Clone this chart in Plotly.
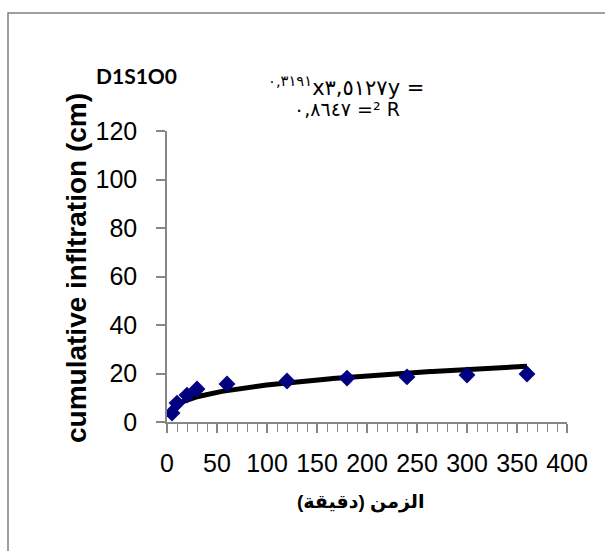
import numpy as np
import plotly.graph_objects as go

# Data
time_min = [5, 10, 20, 30, 60, 120, 180, 240, 300, 360]
cum_infiltration = [3.7, 7.8, 11.1, 13.6, 15.7, 16.9, 18.1, 18.6, 19.4, 19.8]

# Power trendline shown on chart: y = 3.5127 x^0.3191
trend_a = 3.5127
trend_b = 0.3191

x_ticks = [0, 50, 100, 150, 200, 250, 300, 350, 400]
y_ticks = [0, 20, 40, 60, 80, 100, 120]

W, H = 605, 551
L, R, T, B = 167, 567, 131, 422

tx = np.linspace(min(time_min), max(time_min), 200)
ty = trend_a * tx ** trend_b

fig = go.Figure()
fig.add_trace(go.Scatter(x=tx, y=ty, mode="lines",
                         line=dict(color="black", width=5), hoverinfo="skip"))
fig.add_trace(go.Scatter(x=time_min, y=cum_infiltration, mode="markers",
                         marker=dict(symbol="diamond", size=13, color="#000080",
                                     line=dict(width=0))))

def px_x(p):
    return (p - L) / (R - L)

def px_y(p):
    return (B - p) / (B - T)

fig.add_shape(type="rect", xref="paper", yref="paper",
              x0=px_x(8), x1=px_x(620), y0=px_y(13), y1=px_y(570),
              line=dict(color="#808080", width=1.5), layer="below")

fig.add_annotation(xref="paper", yref="paper", x=px_x(94), y=px_y(75),
                   xanchor="left", yanchor="middle", showarrow=False,
                   text="<b>D1S1O0</b>",
                   font=dict(family="Lato, Open Sans, sans-serif", size=21, color="black"))

fig.add_annotation(xref="paper", yref="paper", x=px_x(346), y=px_y(86),
                   xanchor="center", yanchor="middle", showarrow=False,
                   text="<sup>٠,٣١٩١</sup>x٣,٥١٢٧y =",
                   font=dict(family="DejaVu Sans, Liberation Sans", size=21, color="black"))
fig.add_annotation(xref="paper", yref="paper", x=px_x(347), y=px_y(109),
                   xanchor="center", yanchor="middle", showarrow=False,
                   text="٠,٨٦٤٧ =² R",
                   font=dict(family="DejaVu Sans, Liberation Sans", size=19, color="black"))

fig.add_annotation(xref="paper", yref="paper", x=px_x(76), y=px_y(268),
                   xanchor="center", yanchor="middle", showarrow=False, textangle=-90,
                   text="<b>cumulative infltration (cm)</b>",
                   font=dict(family="Liberation Sans, Arial", size=28, color="black"))
fig.add_annotation(xref="paper", yref="paper", x=px_x(360), y=px_y(502),
                   xanchor="center", yanchor="middle", showarrow=False,
                   text="<b>الزمن (دقيقة)</b>",
                   font=dict(family="Liberation Sans, Arial, DejaVu Sans", size=19, color="black"))

axis_font = dict(family="Liberation Sans, Arial", size=25, color="black")
fig.update_xaxes(range=[0, 400], tickvals=x_ticks, ticktext=[str(v) for v in x_ticks],
                 showgrid=False, zeroline=False, showline=True, linecolor="#868686",
                 linewidth=1.5, ticks="outside", ticklen=9, tickcolor="#868686",
                 tickwidth=1.5, tickfont=axis_font, ticklabelstandoff=9,
                 minor=dict(dtick=10, ticks="outside", ticklen=8, tickcolor="#868686",
                            tickwidth=1, showgrid=False))
fig.update_yaxes(range=[0, 120], tickvals=y_ticks, showgrid=False, zeroline=False,
                 showline=True, linecolor="#868686", linewidth=1.5, ticks="outside",
                 ticklen=9, tickcolor="#868686", tickwidth=1.5, tickfont=axis_font,
                 ticklabelstandoff=14)

fig.update_layout(width=W, height=H, showlegend=False,
                  margin=dict(l=L, r=W - R, t=T, b=H - B),
                  plot_bgcolor="white", paper_bgcolor="white")

fig.write_html("out.html")
